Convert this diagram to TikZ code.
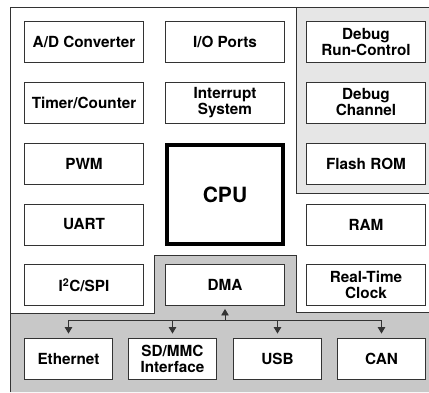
\documentclass[tikz,border=0pt]{standalone}
\usepackage{fontspec}
\setmainfont{TeX Gyre Heros}
\usetikzlibrary{arrows.meta, positioning}
\definecolor{linegray}{HTML}{333333}
\definecolor{dbgbg}{HTML}{E6E6E6}
\definecolor{busbg}{HTML}{C8C8C8}

\begin{document}
\begin{tikzpicture}[x=1pt, y=-1pt,
    every node/.style={font=\fontsize{15.3}{16}\selectfont\bfseries},
    blk/.style={draw=linegray, fill=white, line width=0.9pt, minimum width=119pt, minimum height=41pt, align=center, inner sep=1pt},
    io/.style={blk, minimum width=88pt},
    core/.style={draw=black, fill=white, line width=4pt, minimum width=116pt, minimum height=99pt, font=\fontsize{21}{23}\selectfont\bfseries},
    region/.style={draw=linegray, line width=0.9pt},
    arr/.style={-{Triangle[width=7.5pt,length=6.5pt]}, line width=0.9pt, linegray}
]
\useasboundingbox (0,0) rectangle (429,392);

% shaded areas and outer frame
\fill[dbgbg] (296,7) rectangle (429,193);
\draw[region] (296,7) -- (296,193) -- (429,193);
\fill[busbg] (10,313) -- (154,313) -- (154,255) -- (296,255) -- (296,312) -- (429,312) -- (429,392) -- (10,392) -- cycle;
\draw[region] (10,313) -- (154,313) -- (154,255) -- (296,255) -- (296,312) -- (429,312);
\draw[region] (10,392) -- (10,7) -- (429,7);

\node[blk] (adc) at (84,42) {A/D Converter};
\node[blk] (tmr) at (84,102.5) {Timer/Counter};
\node[blk] (pwm) at (84,163.5) {PWM};
\node[blk] (uart) at (84,224.5) {UART};
\node[blk] (i2c) at (84,285) {I\textsuperscript{2}C/SPI};

\node[blk] (gpio) at (225,42) {I/O Ports};
\node[blk] (irq) at (225,102.5) {Interrupt\\System};
\node[core] (cpu) at (225,194.5) {CPU};
\node[blk] (dma) at (225,285) {DMA};

\node[blk] (runctl) at (366,42) {Debug\\Run-Control};
\node[blk] (dbgch) at (366,102.5) {Debug\\Channel};
\node[blk] (flash) at (366,163.5) {Flash ROM};
\node[blk] (ram) at (366,224.5) {RAM};
\node[blk] (rtc) at (366,285) {Real-Time\\Clock};

% peripheral bus
\node[io] (eth) at (68.5,358.5) {Ethernet};
\node[io] (sdmmc) at (172.5,358.5) {SD/MMC\\Interface};
\node[io] (usb) at (277.5,358.5) {USB};
\node[io] (can) at (381.5,358.5) {CAN};

\coordinate (bus) at (0,320);
\draw[line width=0.9pt, linegray] (eth.north |- bus) -- (can.north |- bus);
\foreach \n in {eth, sdmmc, usb, can}
    \draw[arr, shorten >=4pt] (\n.north |- bus) -- (\n.north);
\draw[arr, shorten >=3pt] (dma.south |- bus) -- (dma.south);

\end{tikzpicture}
\end{document}
